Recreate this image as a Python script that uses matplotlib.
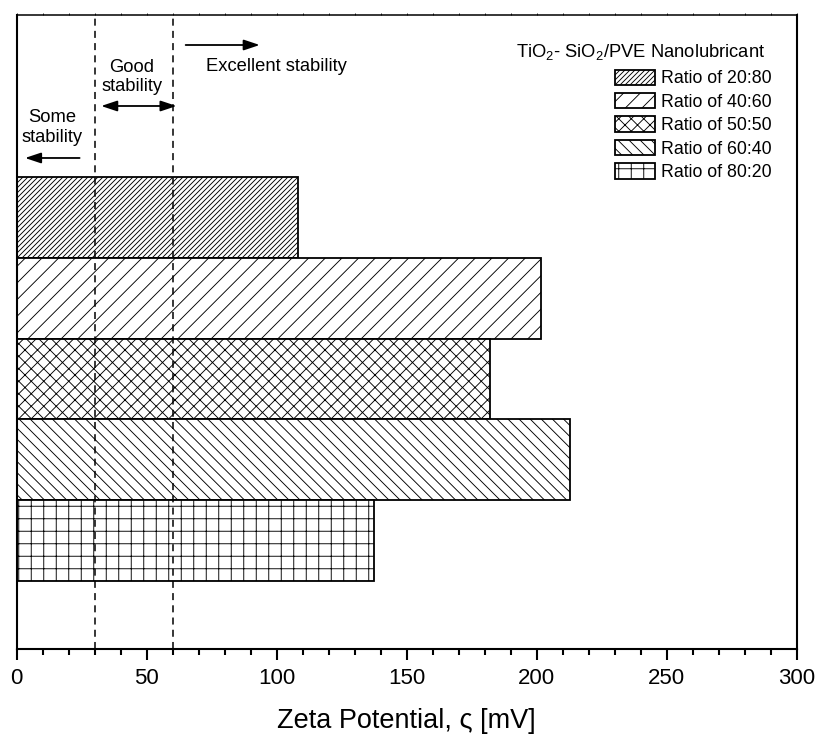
import matplotlib
matplotlib.use("Agg")
import matplotlib.pyplot as plt
from matplotlib.backend_bases import GraphicsContextBase
from matplotlib.ticker import MultipleLocator

# Hatch strings below are tuned for a hatch density of 2 per character
_base_hatch_path = GraphicsContextBase.get_hatch_path


def _fine_hatch(self, density=2.0):
    return _base_hatch_path(self, 2.0)


GraphicsContextBase.get_hatch_path = _fine_hatch

plt.rcParams["font.family"] = ["Liberation Sans", "DejaVu Sans"]
plt.rcParams["mathtext.fontset"] = "custom"
plt.rcParams["mathtext.rm"] = "Liberation Sans"
plt.rcParams["mathtext.it"] = "Liberation Sans:italic"
plt.rcParams["hatch.linewidth"] = 0.65
plt.rcParams["hatch.color"] = "black"

# Data
ratios = ["Ratio of 20:80", "Ratio of 40:60", "Ratio of 50:50",
          "Ratio of 60:40", "Ratio of 80:20"]
zeta_mv = [108.3, 201.6, 182.1, 212.9, 137.3]
hatches = ["/" * 20, "/" * 6, "x" * 8, "\\" * 9, "+" * 4]
positions = [5, 4, 3, 2, 1]
stability_limits = [30, 60]
x_ticks = [0, 50, 100, 150, 200, 250, 300]

fig = plt.figure(figsize=(8.16, 7.34), dpi=100)
ax = fig.add_axes([0.02047, 0.11580, 0.95564, 0.86376])

bars = []
for pos, val, h, lab in zip(positions, zeta_mv, hatches, ratios):
    b = ax.barh(pos, val, height=1.0, color="white", edgecolor="black",
                linewidth=1.3, hatch=h, label=lab, zorder=2)
    bars.append(b)

for xl in stability_limits:
    ax.axvline(xl, color="black", lw=1.1, ls=(0, (4.6, 3.4)), zorder=3)

ax.set_xlim(0, 300)
ax.set_ylim(-0.346, 7.511)
ax.set_xticks(x_ticks)
ax.xaxis.set_minor_locator(MultipleLocator(10))
ax.set_yticks([])
ax.tick_params(axis="x", which="major", direction="out", length=8,
               width=1.5, labelsize=16, pad=6, top=True)
ax.tick_params(axis="x", which="minor", direction="out", length=4,
               width=1.5, top=True)
ax.tick_params(axis="x", which="both", labeltop=False)
for t in ax.xaxis.get_major_ticks() + ax.xaxis.get_minor_ticks():
    t.tick2line.set_markersize(1.2)
    t.tick2line.set_markeredgewidth(0.6)
for side in ["left", "bottom", "right"]:
    ax.spines[side].set_linewidth(1.5)
ax.spines["top"].set_linewidth(1.1)
ax.set_xlabel("Zeta Potential, ς [mV]", fontsize=19.5, labelpad=13)

# Stability region annotations
arrow_kw = dict(color="black", lw=1.3, shrinkA=0, shrinkB=0)
head = ",head_length=0.6,head_width=0.2"


def y_at(py):
    # vertical position given in pixels from the top of the axes area
    return 7.511 - (py - 15) / 80.7


ax.annotate("", xy=(93.5, y_at(45)), xytext=(65, y_at(45)),
            arrowprops=dict(arrowstyle="-|>" + head, mutation_scale=16, **arrow_kw))
ax.text(73, y_at(67), "Excellent stability", fontsize=13.2,
        ha="left", va="center")

ax.annotate("", xy=(61.5, y_at(106)), xytext=(32.5, y_at(106)),
            arrowprops=dict(arrowstyle="<|-|>" + head, mutation_scale=16, **arrow_kw))
ax.text(44.2, y_at(77), "Good\nstability", fontsize=13.2,
        ha="center", va="center", linespacing=1.22)

ax.annotate("", xy=(3.2, y_at(158)), xytext=(24.2, y_at(158)),
            arrowprops=dict(arrowstyle="-|>" + head, mutation_scale=16, **arrow_kw))
ax.text(13.8, y_at(127.5), "Some\nstability", fontsize=13.2,
        ha="center", va="center", linespacing=1.3)

fig.text(765 / 816, 1 - 56.5 / 734, "TiO$_2$- SiO$_2$/PVE Nanolubricant",
         fontsize=13.2, ha="right", va="baseline")

leg = ax.legend(handles=bars, loc="upper left",
                bbox_to_anchor=(615 / 816, 1 - 69.5 / 734),
                bbox_transform=fig.transFigure, frameon=False, fontsize=12.8,
                handlelength=2.25, handleheight=0.95,
                labelspacing=0.32, handletextpad=0.33, borderpad=0,
                borderaxespad=0)
for p in leg.get_patches():
    p.set_linewidth(1.3)

fig.savefig("out.png", dpi=100)
